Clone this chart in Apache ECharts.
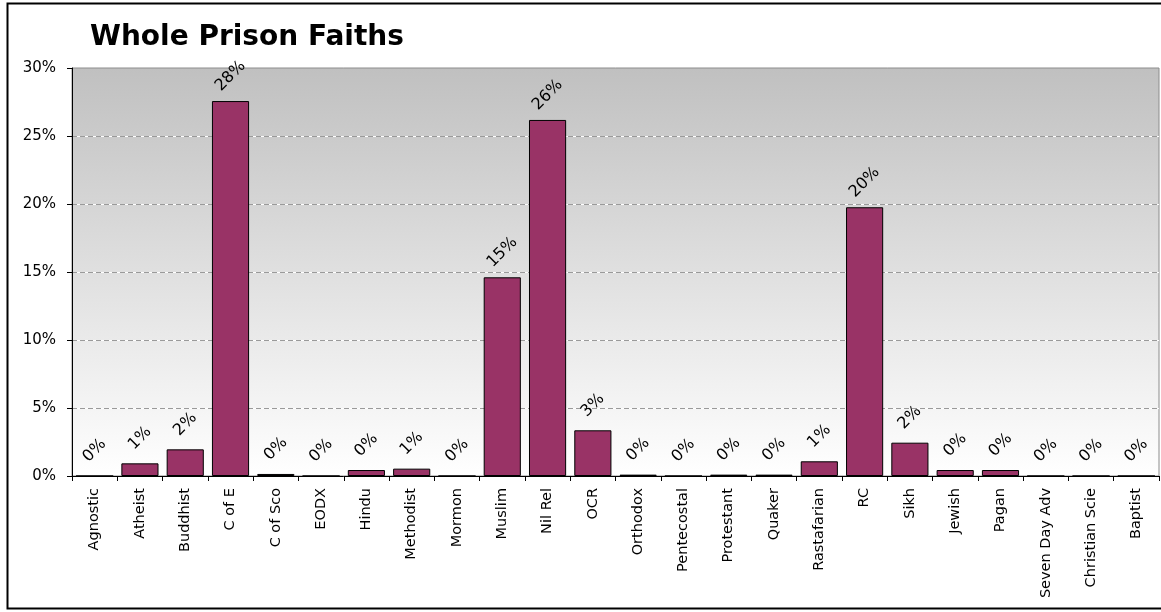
<!DOCTYPE html>
<html>
<head>
<meta charset="utf-8">
<script src="https://cdn.jsdelivr.net/npm/echarts@6/dist/echarts.min.js"></script>
<style>
html,body{margin:0;padding:0;background:#fff;}
#chart{width:1161px;height:612px;}
</style>
</head>
<body>
<div id="chart"></div>
<script>
var titleText = 'Whole Prison Faiths';
var categories = ['Agnostic','Atheist','Buddhist','C of E','C of Sco','EODX','Hindu','Methodist','Mormon','Muslim','Nil Rel','OCR','Orthodox','Pentecostal','Protestant','Quaker','Rastafarian','RC','Sikh','Jewish','Pagan','Seven Day Adv','Christian Scie','Baptist'];
var percentValues = [0, 0.93, 1.96, 27.57, 0.15, 0, 0.44, 0.54, 0, 14.61, 26.18, 3.36, 0.1, 0, 0.1, 0.1, 1.08, 19.76, 2.45, 0.44, 0.44, 0, 0, 0];
var yTicks = [0, 5, 10, 15, 20, 25, 30];

var chart = echarts.init(document.getElementById('chart'), null, {renderer: 'canvas'});
var option = {
  backgroundColor: '#ffffff',
  animation: false,
  title: {
    text: titleText,
    left: 85,
    top: 19,
    textStyle: {fontFamily: 'DejaVu Sans', fontWeight: 'bold', fontSize: 28, color: '#000'}
  },
  graphic: [{
    type: 'rect',
    silent: true,
    z: 100,
    shape: {x: 7.5, y: 3.5, width: 1165, height: 605},
    style: {fill: 'none', stroke: '#000', lineWidth: 2}
  }],
  grid: {
    left: 72, top: 68, right: 2, bottom: 136,
    show: true,
    borderColor: '#8c8c8c',
    borderWidth: 1,
    backgroundColor: new echarts.graphic.LinearGradient(0, 0, 0, 1, [
      {offset: 0, color: '#c0c0c0'},
      {offset: 1, color: '#ffffff'}
    ])
  },
  xAxis: {
    type: 'category',
    data: categories,
    axisLine: {lineStyle: {color: '#000', width: 1}},
    axisTick: {show: true, length: 5, lineStyle: {color: '#000'}},
    axisLabel: {rotate: 90, margin: 12, color: '#000', fontFamily: 'DejaVu Sans', fontSize: 14.5, interval: 0}
  },
  yAxis: [{
    type: 'value',
    min: 0, max: 30, interval: 5,
    z: 2,
    axisLine: {show: true, lineStyle: {color: '#000', width: 1}},
    axisTick: {show: true, length: 5, lineStyle: {color: '#000'}},
    axisLabel: {formatter: '{value}%', margin: 16, color: '#000', fontFamily: 'DejaVu Sans', fontSize: 15},
    splitLine: {show: true, showMinLine: false, showMaxLine: false, lineStyle: {color: '#9a9a9a', type: [5, 3], width: 1}}
  }, {
    type: 'value',
    min: 0, max: 30, interval: 5,
    position: 'left',
    z: 1,
    axisLine: {show: false},
    axisTick: {show: false},
    axisLabel: {show: false},
    splitLine: {show: true, showMinLine: false, showMaxLine: false, lineStyle: {color: '#ffffff', type: 'solid', width: 1}}
  }],
  series: [{
    type: 'bar',
    data: percentValues,
    barCategoryGap: '18%',
    z: 3,
    itemStyle: {color: '#993366', borderColor: '#000', borderWidth: 1},
    label: {
      show: true,
      position: 'top',
      distance: 25,
      rotate: 45,
      align: 'center',
      verticalAlign: 'middle',
      color: '#000',
      fontFamily: 'DejaVu Sans',
      fontSize: 16,
      formatter: function (p) { return Math.round(p.value) + '%'; }
    }
  }]
};
chart.setOption(option);
</script>
</body>
</html>
